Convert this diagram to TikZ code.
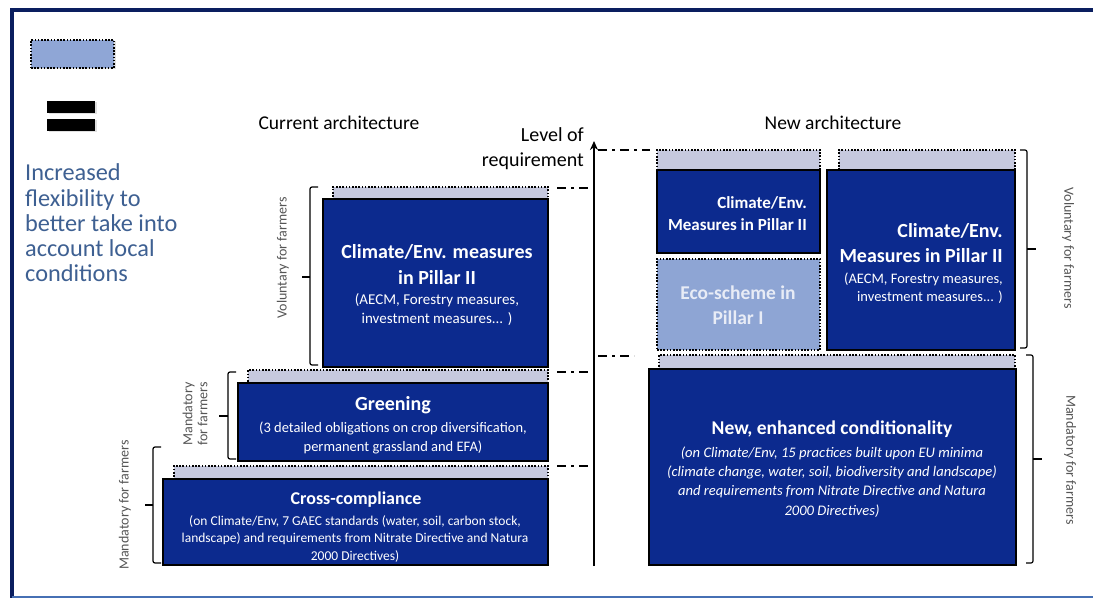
\documentclass[tikz,border=0pt]{standalone}
\usepackage{fontspec}
\setmainfont{Carlito}
\usetikzlibrary{arrows.meta}
\definecolor{navy}{RGB}{12,42,142}
\definecolor{stripgray}{RGB}{198,201,222}
\definecolor{ecoblue}{RGB}{142,165,212}
\definecolor{legblue}{RGB}{143,166,214}
\definecolor{flexblue}{RGB}{62,96,146}
\definecolor{ecotext}{RGB}{232,236,246}
\definecolor{framedark}{RGB}{10,30,95}
\definecolor{framelight}{RGB}{70,112,180}
\definecolor{sidegray}{RGB}{85,85,85}
\newcommand\fs[2]{\fontsize{#1pt}{#2pt}\selectfont}
\begin{document}
\begin{tikzpicture}[x=1pt,y=-1pt,
  blk/.style={draw=black, line width=2pt, fill=navy, inner sep=0pt, outer sep=0pt, anchor=north west},
  strip/.style={draw=black, dash pattern=on 1.6pt off 1.6pt, line width=1.6pt, fill=stripgray, inner sep=0pt, outer sep=0pt, anchor=north west},
  eco/.style={draw=black, dash pattern=on 1.6pt off 1.6pt, line width=1.6pt, fill=ecoblue, inner sep=0pt, outer sep=0pt, anchor=north west},
  wtxt/.style={text=white, inner sep=0pt, align=center},
  side/.style={text=sidegray, inner sep=0pt, align=center, font=\fs{14}{15}},
  brk/.style={draw=black, line width=1.2pt, rounded corners=2pt},
  level/.style={draw=black, line width=2pt, dash pattern=on 9pt off 5pt on 3pt off 5pt},
  head/.style={inner sep=0pt, font=\fs{19.5}{24}},
  shade/.style={fill=black!12}
]
\useasboundingbox (0,0) rectangle (1093,601);
\fill[white] (0,0) rectangle (1093,601);
% frame
\draw[framedark, line width=4pt] (1093,10) -- (11.5,10) -- (11.5,598);
\draw[framelight, line width=2pt] (11.5,597) -- (1093,597);

% legend
\fill[shade] (32.5,41.5) rectangle (115.5,69.5);
\node[eco, fill=legblue, minimum width=83pt, minimum height=28pt] (leg) at (31,40) {};
\fill[shade] (48.5,102.5) rectangle (96.5,114.5);
\fill[shade] (48.5,120.5) rectangle (96.5,132.5);
\node[fill=black, inner sep=0pt, minimum width=48pt, minimum height=12pt, anchor=north west] (eq1) at (47,101) {};
\node[fill=black, inner sep=0pt, minimum width=48pt, minimum height=12pt, anchor=north west] (eq2) at (47,119) {};
\node[anchor=west, inner sep=0pt, align=left, text=flexblue, font=\fs{24.3}{25.3}] (flex) at (25,223)
  {Increased\\flexibility to\\better take into\\account local\\conditions};

% headings
\node[head] (cur) at (339,123) {Current architecture};
\node[head] (new) at (833,123) {New architecture};
\node[anchor=east, inner sep=0pt, align=right, font=\fs{20}{25}] (lvl) at (584,148.5) {Level of\\requirement};

% axis
\coordinate (ax0) at (594,566);
\coordinate (ax1) at (594,141);
\draw[line width=2pt, -{Stealth[length=9pt,width=8pt]}] (ax0) -- (ax1);

% level lines
\coordinate (l1a) at (598,150); \coordinate (l1b) at (650,150);
\coordinate (l2a) at (557,188); \coordinate (l2b) at (592,188);
\coordinate (l3a) at (598,356); \coordinate (l3b) at (634,356);
\coordinate (l4a) at (557,372); \coordinate (l4b) at (592,372);
\coordinate (l5a) at (557,466); \coordinate (l5b) at (592,466);
\draw[level] (l1a) -- (l1b);
\draw[level] (l2a) -- (l2b);
\draw[level] (l3a) -- (l3b);
\draw[level] (l4a) -- (l4b);
\draw[level] (l5a) -- (l5b);

% current architecture
\node[strip, minimum width=215pt, minimum height=13pt] (lvs) at (333,187) {};
\node[blk, minimum width=225pt, minimum height=168pt] (lv) at (323,199) {};
\node[strip, minimum width=300pt, minimum height=14pt] (grs) at (248,370) {};
\node[blk, minimum width=310pt, minimum height=78pt] (gr) at (238,383) {};
\node[strip, minimum width=374pt, minimum height=14pt] (ccs) at (174,466) {};
\node[blk, minimum width=385pt, minimum height=86pt] (cc) at (163,479) {};

\node[wtxt, font=\bfseries\fs{20}{26}] (lvT) at (437,265) {Climate/Env. measures\\in Pillar II};
\node[wtxt, font=\fs{15}{19}] (lvS) at (437,309.5) {(AECM, Forestry measures,\\investment measures... )};
\node[wtxt, font=\bfseries\fs{20}{24}] (grT) at (393,405) {Greening};
\node[wtxt, font=\fs{14.5}{19}] (grS) at (393,437.5) {(3 detailed\ obligations on crop diversification,\\permanent grassland and EFA)};
\node[wtxt, font=\bfseries\fs{18}{22}] (ccT) at (356,500) {Cross-compliance};
\node[wtxt, font=\fs{13.5}{17.5}] (ccS) at (355,539) {(on Climate/Env, 7 GAEC standards (water, soil, carbon stock,\\landscape) and requirements from Nitrate Directive and Natura\\2000 Directives)};

% new architecture
\node[strip, minimum width=163pt, minimum height=20pt] (n1s) at (657,150) {};
\node[blk, minimum width=163pt, minimum height=83pt] (n1) at (657,170) {};
\node[eco, minimum width=163pt, minimum height=91pt] (ecob) at (657,259) {};
\node[strip, minimum width=176pt, minimum height=20pt] (n2s) at (839,150) {};
\node[blk, minimum width=188pt, minimum height=180pt] (n2) at (827,170) {};
\node[strip, minimum width=356pt, minimum height=14pt] (ncs) at (659,355) {};
\node[blk, minimum width=367pt, minimum height=196pt] (nc) at (649,369) {};

\node[wtxt, align=right, anchor=east, font=\bfseries\fs{17}{22}] (n1T) at (807,214) {Climate/Env.\\Measures in Pillar II};
\node[wtxt, text=ecotext, font=\bfseries\fs{19.5}{25}] (ecoT) at (738,305.5) {Eco-scheme in\\Pillar I};
\node[wtxt, align=right, anchor=east, font=\bfseries\fs{20}{25}] (n2T) at (1003,243.5) {Climate/Env.\\Measures in Pillar II};
\node[wtxt, align=right, anchor=east, font=\fs{14.5}{18}] (n2S) at (1003,288) {(AECM, Forestry measures,\\investment measures... )};
\node[wtxt, font=\bfseries\fs{19.5}{24}] (ncT) at (832,429) {New, enhanced conditionality};
\node[wtxt, font=\itshape\fs{14.6}{19.3}] (ncS) at (832,482) {(on Climate/Env,\ 15 practices built upon EU minima\\(climate change, water, soil, biodiversity and landscape)\\and requirements from Nitrate Directive and Natura\\2000 Directives)};

% brackets left
\draw[brk] (318,187) -- (310,187) -- (310,365) -- (318,365);
\draw[brk] (310,277) -- (302,277);
\draw[brk] (236,372) -- (228,372) -- (228,459) -- (236,459);
\draw[brk] (228,416) -- (219,416);
\draw[brk] (161,447) -- (153,447) -- (153,563) -- (161,563);
\draw[brk] (153,505) -- (145,505);
% brackets right
\draw[brk] (1020,150) -- (1027,150) -- (1027,348) -- (1020,348);
\draw[brk] (1027,249) -- (1036,249);
\draw[brk] (1026,355) -- (1033,355) -- (1033,563) -- (1026,563);
\draw[brk] (1033,459) -- (1042,459);

% side labels
\node[side, rotate=90] (sv1) at (283,258) {Voluntary for farmers};
\node[side, rotate=90] (sm1) at (195,414) {Mandatory\\for farmers};
\node[side, rotate=90] (sm2) at (125,505) {Mandatory for farmers};
\node[side, rotate=-90] (sv2) at (1068,248) {Voluntary for farmers};
\node[side, rotate=-90] (sm3) at (1070,460) {Mandatory for farmers};
\end{tikzpicture}
\end{document}
